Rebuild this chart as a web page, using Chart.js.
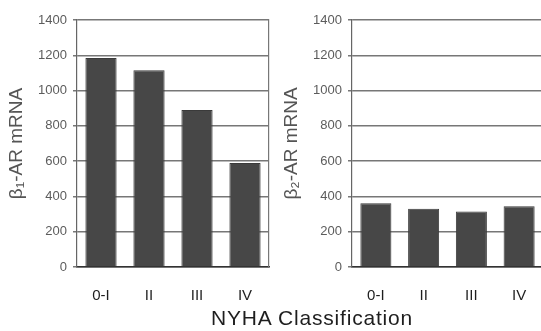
<!DOCTYPE html>
<html>
<head>
<meta charset="utf-8">
<script src="https://cdn.jsdelivr.net/npm/chart.js@4.4.1/dist/chart.umd.min.js"></script>
<style>
	html, body { margin: 0; padding: 0; background: #fff; overflow: hidden; }
	body { width: 541px; height: 331px; position: relative; }
	.panel { position: absolute; top: 0; height: 331px; }
	#xTitle {
		position: absolute; left: 0; width: 624px; top: 306px;
		text-align: center; font: 21px "Liberation Sans", Arial, sans-serif; color: #1e1e1e;
		letter-spacing: 0.8px;
	}
</style>
</head>
<body>
<div class="panel" style="left:0;width:280px"><canvas id="chart1"></canvas></div>
<div class="panel" style="left:270px;width:280px"><canvas id="chart2"></canvas></div>
<div id="xTitle">NYHA Classification</div>
<script>
const categories = ["0-I", "II", "III", "IV"];
const beta1Values = [1185, 1115, 890, 590];
const beta2Values = [362, 330, 315, 345];
const yMax = 1400;
const yStep = 200;

const fontFamily = "'Liberation Sans', Arial, sans-serif";

function makeChart(id, values, title, padLeft, axisWidth, padRight, rightBorder) {
	return new Chart(document.getElementById(id), {
		type: "bar",
		data: {
			labels: categories,
			datasets: [{
				data: values,
				backgroundColor: "#474747",
				borderColor: "#3a3a3a",
				borderWidth: 1,
				categoryPercentage: 1,
				barPercentage: 0.65
			}]
		},
		options: {
			responsive: true,
			maintainAspectRatio: false,
			animation: false,
			layout: { padding: { top: 20, right: padRight, bottom: 0, left: padLeft } },
			plugins: { legend: { display: false }, tooltip: { enabled: false } },
			scales: {
				x: {
					grid: { display: false },
					border: { color: "#333", width: 1.5 },
					ticks: { color: "#1e1e1e", font: { family: fontFamily, size: 15 }, padding: 12 },
					afterFit: s => { s.height = 64; }
				},
				y: {
					min: 0,
					max: yMax,
					ticks: {
						stepSize: yStep,
						color: "#5c5c5c",
						font: { family: fontFamily, size: 13 },
						padding: 6,
						callback: v => String(v)
					},
					grid: { color: "#777", lineWidth: 1.5, tickLength: 4 },
					border: { color: "#666", width: 1.2 },
					title: { display: true, text: title, color: "#555", font: { family: fontFamily, size: 19 }, padding: { top: 0, bottom: 1 } },
					afterFit: s => { s.width = axisWidth; }
				},
				y2: {
					position: "right",
					display: rightBorder,
					min: 0,
					max: yMax,
					ticks: { display: false },
					grid: { display: false },
					border: { color: "#777", width: 1.2 },
					afterFit: s => { s.width = 0; }
				}
			}
		}
	});
}

makeChart("chart1", beta1Values, "β₁-AR mRNA", 5, 72, 11, true);
makeChart("chart2", beta2Values, "β₂-AR mRNA", 10, 72, 7, false);
</script>
</body>
</html>
